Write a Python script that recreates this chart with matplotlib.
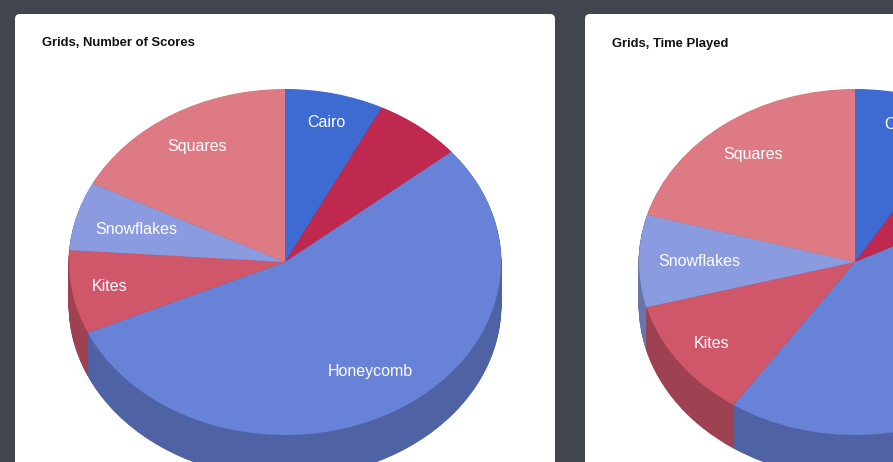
import matplotlib
matplotlib.use("Agg")
import matplotlib.pyplot as plt
from matplotlib.patches import FancyBboxPatch
import matplotlib.colors as mcolors
import numpy as np

# ---------------- data ----------------
slice_labels = ["Cairo", "", "Honeycomb", "Kites", "Snowflakes", "Squares"]  # 2nd slice shows no label
scores_pct = [7.4, 6.6, 54.3, 7.8, 6.4, 17.5]
time_pct = [8.7, 8.8, 42.0, 11.3, 8.6, 20.6]
titles = ["Grids, Number of Scores", "Grids, Time Played"]
slice_colors = ["#3d6bd1", "#c0294f", "#6882d8", "#d0566a", "#8b9be0", "#de7a84"]

W, H = 893, 462
BG = "#41464e"

fig = plt.figure(figsize=(W / 100, H / 100), dpi=100)
fig.patch.set_facecolor(BG)

# background axes in pixel coords
bg = fig.add_axes([0, 0, 1, 1])
bg.set_xlim(0, W)
bg.set_ylim(H, 0)
bg.axis("off")

card_lefts = [15, 585]
card_w = 540
card_top = 14
for cl, t in zip(card_lefts, titles):
    card = FancyBboxPatch((cl, card_top), card_w, 600, boxstyle="round,pad=0,rounding_size=5",
                          facecolor="white", edgecolor="none", zorder=1)
    bg.add_patch(card)
    bg.text(cl + 27, 46.5, t, fontsize=9.4, fontweight="bold", family="Liberation Sans",
            color="#111111", ha="left", va="baseline", zorder=2)

dark_colors = [tuple(np.array(mcolors.to_rgb(c)) * 0.76) for c in slice_colors]

rx, ry = 216, 173
depth_px = 43
cy = 262
label_start = 0.84
label_inset = 18  # px padding kept between label box and pie rim

pie_axes = []


def draw_pie(values, cx):
    ax = fig.add_axes([0, 0, 1, 1])
    ax.patch.set_alpha(0)
    depth = depth_px / ry
    n = 44
    for k in range(n, 0, -1):
        off = depth * k / n
        ax.pie(values, colors=dark_colors, startangle=90, counterclock=False,
               center=(0, -off), radius=1, normalize=True,
               wedgeprops=dict(linewidth=0.6, antialiased=True))
    wedges, texts = ax.pie(values, colors=slice_colors, startangle=90, counterclock=False,
                           labels=slice_labels, labeldistance=label_start, radius=1, normalize=True,
                           wedgeprops=dict(linewidth=0, antialiased=True),
                           textprops=dict(color="white", fontsize=11.5, family="Liberation Sans"))
    for t in texts:
        t.set_ha("center")
        t.set_va("center")
    for p in ax.patches:
        p.set_edgecolor(p.get_facecolor())
    ax.set_aspect("auto")
    ax.set_xlim((0 - cx) / rx, (W - cx) / rx)
    ax.set_ylim((cy - H) / ry, cy / ry)
    ax.axis("off")
    pie_axes.append((ax, texts))


draw_pie(scores_pct, 285)
draw_pie(time_pct, 855)

# pull labels inward until their box fits inside the (inset) top ellipse
fig.canvas.draw()
renderer = fig.canvas.get_renderer()
a, b = rx - label_inset, ry - label_inset
for ax, texts in pie_axes:
    c0 = ax.transData.transform((0, 0))
    for t in texts:
        if not t.get_text():
            continue
        x0, y0 = t.get_position()
        for s in np.linspace(1.0, 0.5, 51):
            t.set_position((x0 * s, y0 * s))
            bb = t.get_window_extent(renderer)
            corners = [(bb.x0, bb.y0), (bb.x0, bb.y1), (bb.x1, bb.y0), (bb.x1, bb.y1)]
            ok = all(((px - c0[0]) / a) ** 2 + ((py - c0[1]) / b) ** 2 <= 1 for px, py in corners)
            if ok:
                break

fig.savefig("out.png", dpi=100, facecolor=BG)
